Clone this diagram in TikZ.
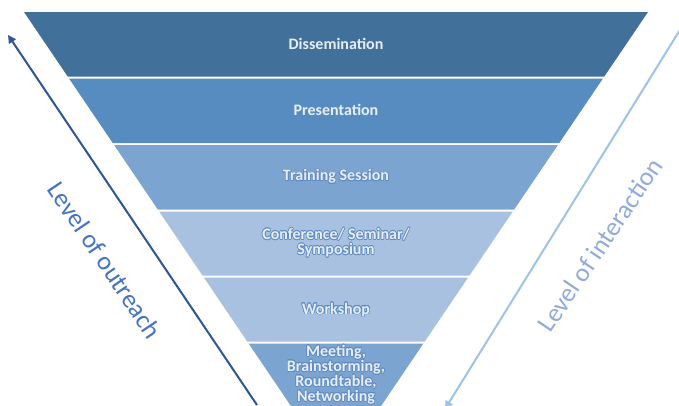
\documentclass[tikz,border=0pt]{standalone}
\usepackage{fontspec}
\setmainfont{Carlito}
\usepackage[copies]{contour}
\usetikzlibrary{arrows.meta}

\definecolor{bandA}{RGB}{65,112,155}
\definecolor{bandB}{RGB}{86,140,192}
\definecolor{bandC}{RGB}{124,164,208}
\definecolor{bandD}{RGB}{168,193,225}
\definecolor{textlight}{RGB}{232,238,246}
\definecolor{textrim}{RGB}{96,140,196}
\definecolor{outreachblue}{RGB}{47,85,151}
\definecolor{outreachtext}{RGB}{68,114,196}
\definecolor{interactblue}{RGB}{157,195,230}
\definecolor{interacttext}{RGB}{143,170,220}

% light letters with a thin blue rim around them
\contourlength{0.65pt}
\contournumber{16}
\newcommand{\rim}[1]{\contour{textrim}{#1}}

\tikzset{
  bandlabel/.style={font=\bfseries\fontsize{16}{15}\selectfont,
                    text=textlight, align=center, inner sep=0pt},
  sidelabel/.style={font=\fontsize{26}{28}\selectfont, inner sep=0pt},
  outarrow/.style={draw=outreachblue, line width=2pt,
                   -{Triangle[width=8pt,length=8pt]}},
  inarrow/.style={draw=interactblue, line width=2pt,
                  -{Triangle[width=8pt,length=8pt]}}
}

\begin{document}
\begin{tikzpicture}[x=1pt,y=-1pt]
\fill[white] (0,0) rectangle (679,405);
\useasboundingbox (0,0) rectangle (679,405);
\begin{scope}
\clip (0,0) rectangle (679,405);

% funnel bands: top edge, bottom edge, fill colour
\foreach \t/\b/\c in {12/76.5/bandA, 78.5/143/bandB, 145/209.5/bandC,
                      211.5/275.5/bandD, 277.5/341.5/bandD, 343.5/415/bandC}{
  \fill[\c] ({24+0.6775*(\t-12)},\t) -- ({648-0.6775*(\t-12)},\t)
         -- ({648-0.6775*(\b-12)},\b) -- ({24+0.6775*(\b-12)},\b) -- cycle;
}

% band labels
\node[bandlabel] (diss) at (336,44) {Dissemination};
\node[bandlabel] (pres) at (336,110) {Presentation};
\node[bandlabel] (train) at (336,177) {\rim{Training Session}};
\node[bandlabel] (conf) at (336,243) {\rim{Conference/ Seminar/}\\\rim{Symposium}};
\node[bandlabel] (work) at (336,310) {\rim{Workshop}};
\node[bandlabel] (meet) at (336,375) {\rim{Meeting,}\\\rim{Brainstorming,}\\\rim{Roundtable,}\\\rim{Networking}};

% side arrows
\coordinate (outS) at (257,405);
\coordinate (outE) at (8,35);
\draw[outarrow] (outS) -- (outE);
\coordinate (inS) at (683,25);
\coordinate (inE) at (445,409);
\draw[inarrow] (inS) -- (inE);

% side labels
\node[sidelabel, text=outreachtext, rotate=-56] (outlbl) at (105,260) {Level of outreach};
\node[sidelabel, text=interacttext, rotate=56] (inlbl) at (600,245) {Level of interaction};
\end{scope}
\end{tikzpicture}
\end{document}
